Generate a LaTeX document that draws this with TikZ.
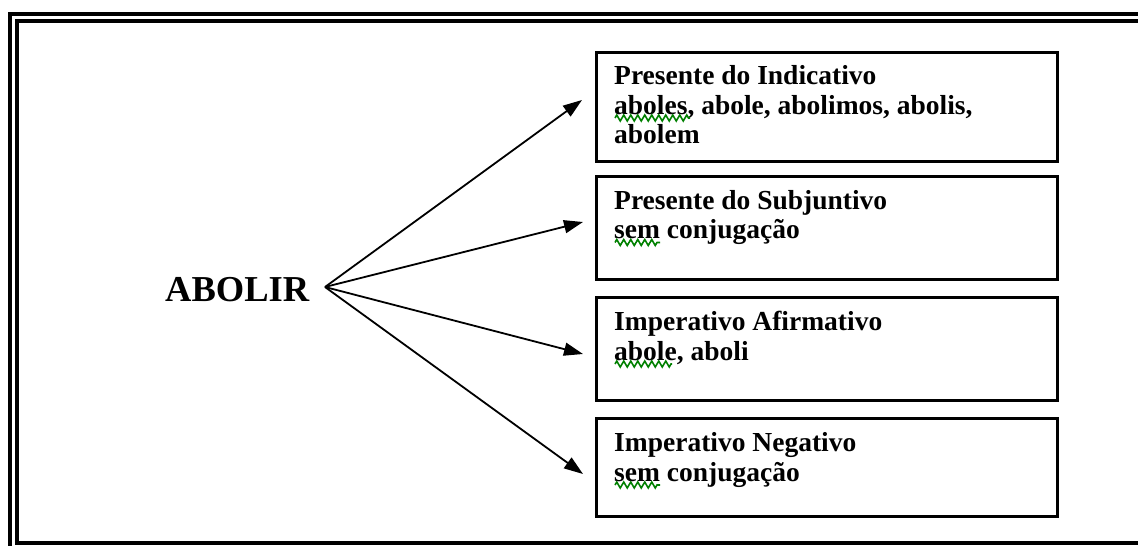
\documentclass[tikz,border=0pt]{standalone}
\usepackage{fontspec}
\setmainfont{Liberation Serif}
\usetikzlibrary{arrows.meta,calc,decorations.pathmorphing}
\begin{document}
\begin{tikzpicture}[x=1pt,y=-1pt,
  frameline/.style={line width=4pt},
  vbox/.style={draw,line width=3pt,minimum width=461pt,minimum height=#1,anchor=north west,inner sep=0pt},
  head/.style={anchor=base west,inner sep=0pt,font=\fontsize{27.5}{30}\selectfont\bfseries},
  body/.style={anchor=base west,inner sep=0pt,font=\fontsize{27.5}{30}\selectfont\bfseries},
  arr/.style={line width=1.8pt,-{Triangle[length=19pt,width=13pt]}},
  squig/.style={draw=green!50!black,line width=1.6pt,decorate,decoration={zigzag,segment length=7pt,amplitude=3pt}}]
\useasboundingbox (0,0) rectangle (1138,546);
\clip (0,0) rectangle (1138,546);
% double frame
\draw[frameline] (10,14) rectangle (1170,570);
\draw[frameline] (17,21) rectangle (1160,543);
% boxes
\node[vbox=109.5pt] (b1) at (595,50.5) {};
\node[vbox=103pt] (b2) at (595,174.5) {};
\node[vbox=103pt] (b3) at (595,295.5) {};
\node[vbox=98.5pt] (b4) at (595,416.5) {};
% texts
\node[head] (h1) at ($(b1.north west)+(19,33.5)$) {Presente do Indicativo};
\node[body] (l1a) at ($(h1.base west)+(0,30)$) {aboles, abole, abolimos, abolis,};
\node[body] (l1b) at ($(l1a.base west)+(0,29)$) {abolem};
\node[head] (h2) at ($(b2.north west)+(19,34.5)$) {Presente do Subjuntivo};
\node[body] (l2a) at ($(h2.base west)+(0,29.5)$) {sem conjugação};
\node[head] (h3) at ($(b3.north west)+(19,34.5)$) {Imperativo Afirmativo};
\node[body] (l3a) at ($(h3.base west)+(0,30)$) {abole, aboli};
\node[head] (h4) at ($(b4.north west)+(19,34.5)$) {Imperativo Negativo};
\node[body] (l4a) at ($(h4.base west)+(0,30)$) {sem conjugação};
% spelling squiggles
\draw[squig] ($(l1a.base west)+(1,4)$) -- ++(75,0);
\draw[squig] ($(l2a.base west)+(1,4)$) -- ++(45,0);
\draw[squig] ($(l3a.base west)+(1,4)$) -- ++(57,0);
\draw[squig] ($(l4a.base west)+(1,4)$) -- ++(45,0);
% main label
\node[anchor=base west,inner sep=0pt,font=\fontsize{36.5}{40}\selectfont\bfseries] (ab) at (165,301) {ABOLIR};
\coordinate (o) at (325,287);
\coordinate (t1) at (582,100);
\coordinate (t2) at (583,222);
\coordinate (t3) at (583,354);
\coordinate (t4) at (583,474);
\draw[arr] (o) -- (t1);
\draw[arr] (o) -- (t2);
\draw[arr] (o) -- (t3);
\draw[arr] (o) -- (t4);
\end{tikzpicture}
\end{document}
